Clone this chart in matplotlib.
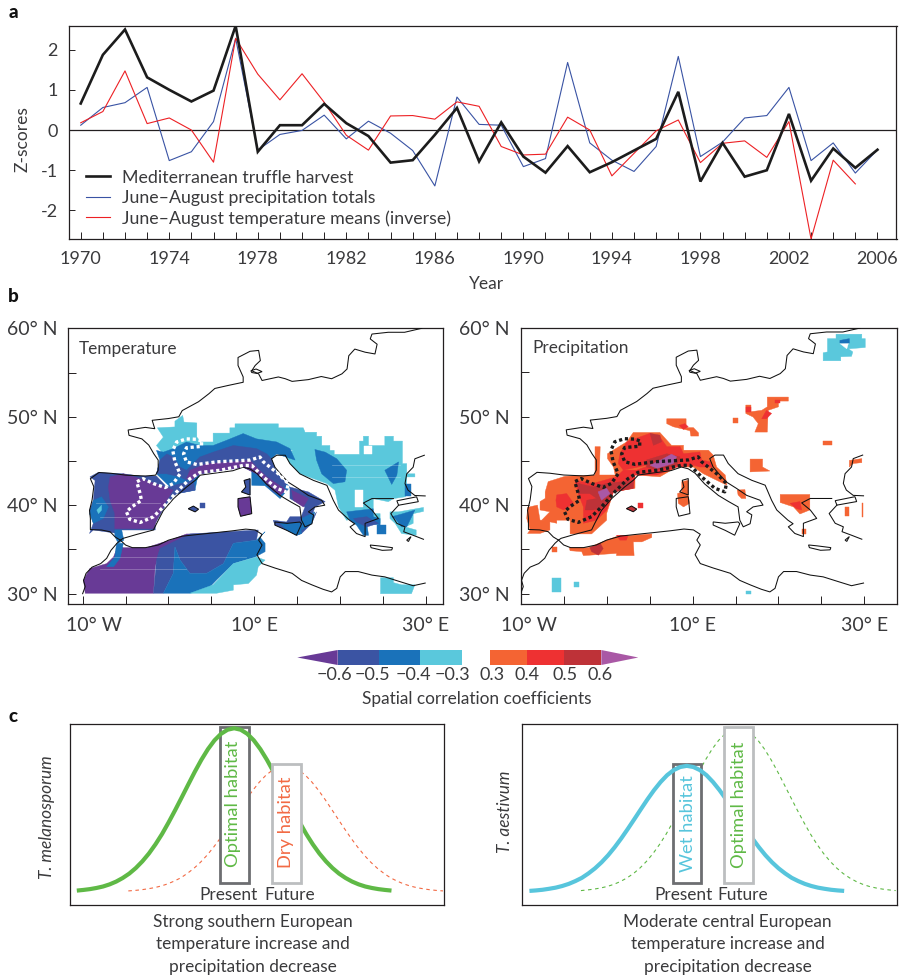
import numpy as np
import matplotlib
matplotlib.use("Agg")
import matplotlib.pyplot as plt
from matplotlib.patches import Polygon, Rectangle
from matplotlib.transforms import ScaledTranslation

plt.rcParams['font.family'] = ['Lato', 'DejaVu Sans']
W, H = 904, 977
TXT = '#3a3a3c'
FRAME = '#231f20'

# ---------- panel a data ----------
years = list(range(1970, 2007))
truffle = [.66,1.87,2.5,1.31,1.0,.71,.98,2.59,-.54,.12,.12,.65,.17,-.15,-.81,-.75,-.12,.55,-.78,.19,
           -.66,-1.06,-.4,-1.05,-.8,-.51,-.22,.95,-1.28,-.32,-1.16,-1.0,.4,-1.26,-.46,-.94,-.49]
precip = [.12,.56,.68,1.06,-.76,-.54,.21,2.28,-.5,-.11,-.01,.37,-.22,.22,-.08,-.51,-1.39,.82,.14,.12,
          -.91,-.71,1.68,-.32,-.75,-1.03,-.41,1.83,-.66,-.3,.3,.36,1.06,-.76,-.32,-1.07,-.49]
temp = [.18,.46,1.47,.16,.3,0,-.8,2.28,1.39,.75,1.4,.69,-.13,-.5,.35,.36,.27,.7,.59,-.41,
        -.62,-.6,.32,0,-1.14,-.58,-.02,.25,-.81,-.33,-.27,-.68,.21,-2.71,-.75,-1.34]
year_ticks = list(range(1970, 2007, 4))
series_names = ['Mediterranean truffle harvest', 'June–August precipitation totals',
                'June–August temperature means (inverse)']

# ---------- coastlines (lon, lat) ----------
coast_africa = [(-10,30),(-9.7,30.8),(-9.9,31.5),(-9.6,32.3),(-8.9,33),(-7.9,33.4),(-7.2,34),(-6.7,34.9),(-6,35.7),(-5.6,36.05),
    (-5,35.5),(-4.2,35.2),(-2.7,35.2),(-1.2,35.5),(0,36.05),(1.6,36.5),(3.5,36.7),(5.5,36.9),(7.4,37.1),(9,37.3),(10.1,37.2),
    (10.9,36.7),(10.5,36.05),(10.9,35.5),(10.3,34.4),(10.9,33.4),(12.4,32.9),(14.4,32.3),(15.5,31.5),(16.7,31),(18,30.5),(19,30.2),
    (19.6,30.6),(20,31.9),(20.6,32.5),(22.1,32.5),(23.7,32.1),(25.2,31.9),(27,31.35),(28.5,30.9),(29.9,31.2)]
coast_atlantic = [(-5.6,36.05),(-6.2,36.4),(-6.8,37),(-7.8,37.2),(-9.1,37.25),(-9.1,38.5),(-9.2,39.4),(-8.9,40.6),(-8.7,42.1),(-9.1,43),
    (-8.1,43.7),(-6.6,43.6),(-5,43.4),(-2.7,43.3),(-1.5,43.4),(-1.2,43.95),(-1.2,45.1),(-1.7,45.8),(-2.3,46.8),(-3.1,47.5),(-4.6,47.9),
    (-4.7,48.5),(-2.7,48.8),(-1.6,48.65),(-1.9,49.6),(0,49.8),(1.2,50),(1.6,50.7),(3.5,51.7),(4.7,52.6),(5.4,53.2),(7,53.55),(8.7,53.9),
    (8.7,54.5),(8.1,55.8),(8.1,56.7),(9.5,57.4),(10.5,57.5),(10.7,56.35),(10.1,55.8),(9.7,55.2),(10.5,54.85),(10.9,54.1),(12.8,54.5),
    (13.6,54.3),(14.4,54),(16.3,54.2),(17.8,54.55),(19,54.3),(20.2,54.85),(20.8,55.4),(21,56.9),(21.7,57.65),(22.9,57.3),(24.05,57.1),
    (24.3,58.2),(23.5,58.8),(23.7,59.35),(25.6,59.55),(27.5,59.55),(29.5,60)]
coast_med = [(-5.6,36.05),(-5.3,36.25),(-3.7,36.7),(-1.75,37.2),(-1.4,37.9),(-.6,39.4),(.6,40.75),(2.1,42.05),(3.1,42.8),(3.7,43.4),
    (5.2,43.6),(7.5,43.9),(8.7,44.3),(9.5,44.1),(10.3,43.6),(11.4,42.4),(13,41.1),(14.2,40.4),(15.3,39.8),(15.5,38.3),(15.9,37.55),
    (16.7,37.9),(16.9,38.9),(16.3,39.25),(17.05,39.8),(18.2,40),(17.85,40.55),(16.3,41.1),(15.1,41.9),(13.95,42.6),(13,43.6),(12.4,44.3),
    (12,45.25),(12.6,45.65),(13.6,45.65),(14.15,44.7),(15.3,43.55),(16.9,42.8),(18.45,42.25),(19.2,40.55),(19.8,39.45),(21.1,38.3),(21.7,37.9),
    (21.15,37.55),(21.9,36.8),(22.9,36.45),(22.9,37.95),(24.45,38.5),(23.7,39.45),(22.7,40.25),(23.7,40.75),(26.2,40.75)]
coast_blacksea = [(29.8,45.65),(28.7,45.25),(28.5,44.3),(27.75,43.55),(27.55,42.45),(27.9,41.7),(28.7,41.1),(29.9,41.05)]
coast_turkey = [(26.8,40),(25.9,39.05),(26.6,37.95),(27.55,37.55),(27.4,37),(28.5,36.6),(29.7,36.15)]
isle_marmara = [(26.6,40.5),(28.9,40.95),(29.1,40.4),(26.8,40)]
isle_rhodes = [(27.75,36.05),(28.25,36.45),(27.95,35.9)]
isle_crete = [(23.5,35.5),(24.5,35.4),(26.1,35.2),(26,34.95),(24.9,34.9),(23.6,35.2)]
isle_sicily = [(12.4,38.1),(13.8,37.95),(15.3,38.1),(15.5,37.9),(14.9,36.6),(13.8,37.15),(12.4,37.75)]
isle_sardinia = [(8.1,40.75),(9.5,40.95),(9.7,39.05),(8.4,38.75),(8.1,39.8)]
isle_corsica = [(8.8,42.8),(9.5,43),(9.5,41.15),(8.5,41.5),(9,42.05)]
isle_mallorca = [(2.3,39.6),(2.9,39.9),(3.5,39.55),(3.1,39.25)]
isle_zealand = [(9.6,55.2),(10.2,55.4),(10.9,55.1),(10.3,54.9),(9.7,55)]
coast_lines = [coast_africa, coast_atlantic, coast_med, coast_blacksea, coast_turkey]
coast_isles = [isle_marmara, isle_rhodes, isle_crete, isle_sicily, isle_sardinia, isle_corsica, isle_mallorca, isle_zealand]

# habitat corridor
corridor = [(3.85,47.25),(3.3,47.45),(2.1,47.5),(.95,47.15),(.5,46.2),(.75,44.9),(1.35,43.55),(.55,42.45),(-.4,42),(-1.75,42.45),
    (-2.95,43),(-3.7,42.65),(-3.3,41.3),(-3.15,40.55),(-4.3,39.8),(-4.9,39.25),(-4.5,38.4),(-3.3,38.05),(-1.75,38.7),(-.6,39.8),(.95,41.5),
    (2.5,43),(3.65,43.7),(6,43.95),(8.7,44.5),(9.7,44.5),(11.05,43.2),(12.6,41.9),(13.75,41.5),(13.95,42.45),(12.8,43.55),(11.05,44.9),
    (10.65,45.45),(9.5,45.1),(5.6,44.9),(3.3,44.6),(2.1,44.9),(1.75,45.8),(2.1,46.5),(3.85,46.65)]

def cell(lon0, lon1, lat0, lat1):
    return [(lon0,lat0),(lon1,lat0),(lon1,lat1),(lon0,lat1)]

# colour classes
C_M6, C_M5, C_M4, C_M3 = '#683a96', '#3b54a3', '#1a72ba', '#5ac8dc'
C_P3, C_P4, C_P5, C_P6 = '#f46433', '#ee3132', '#be3238', '#a958a5'
WHITE = 'white'

# ---------- temperature correlation regions ----------
t_cyan_eu = [(-1.3,48.75),(.75,48.85),(.75,49.5),(1.65,50.15),(1.8,49.4),(3.3,49.3),(3.3,47.7),(3.75,47.15),(5.2,47.15),(5.2,48.15),(7.15,48.15),
    (7.15,48.75),(7.75,48.75),(7.75,49.2),(12.8,49.2),(12.8,48.75),(15.7,48.75),(15.9,48.25),(17.25,48.25),(17.25,47.8),(17.85,47.8),(17.85,46.75),
    (18.8,46.75),(18.8,46.2),(19.3,46.2),(19.3,45.75),(22.25,45.75),(22.25,47.25),(22.7,47.25),(22.7,47.8),(23.3,47.8),(23.3,46.75),(25.2,46.75),
    (25.2,47.8),(26.2,47.8),(26.2,47.25),(27.25,47.25),(27.25,44.7),(27.75,44.7),(27.75,43.55),(28.7,43.55),(28.7,43.2),(27.75,43.2),(27.75,42.25),
    (28.2,41.5),(27.55,40.95),(26.2,40.75),(25.6,40.4),(23.85,40.75),(23.85,39.05),(24.65,39.05),(24.65,37.95),(23.3,38.3),(21.55,38.5),(20.75,38.3),
    (19.8,39.8),(19.4,41.7),(18.45,42.45),(16.9,43),(15.3,43.55),(14.15,44.7),(13.6,45.65),(14.55,46.2),(3.65,46.75),(-.6,45.8),(-1.4,46.75),(-.6,47.7)]
t_gap1 = cell(22.8,23.75,45.75,46.7)
t_gap2 = cell(21.75,22.7,39.8,41.7)
t_blue_eu = [(-1.4,46.2),(-.6,46),(.55,46.4),(2.1,47.15),(3.65,46.75),(5.2,46.75),(6.8,47.35),(8.7,48.1),(10.25,47.5),(12.6,47.15),(14.15,46.4),
    (14.75,45.1),(12.6,45.8),(12,45.25),(12.6,43.55),(14.15,42.05),(13,40.75),(11.25,42.2),(9.7,42.25),(9.7,43.95),(8.7,44.3),(3.65,43.55),(3.3,42.8),
    (3.1,41.7),(.95,41.3),(.2,42.05),(-1.4,43.55),(-1,45.1)]
t_ind_eu = [(-1,45.1),(-.2,45.8),(.55,45.45),(1.35,44.3),(2.1,43.95),(3.65,45.45),(5.2,46),(7.55,46.75),(10.25,46.4),(11.45,45.8),(12,45.25),(12.6,43.55),
    (13.75,42.45),(13,41.15),(12.2,41.5),(10.25,43.55),(8.7,44.3),(3.65,43.55),(2.9,43.4),(2.1,42.8),(1.35,43.2),(-.2,43.55),(-1.4,43.55)]
t_pur_eu = [(2.5,43.95),(4.45,44.7),(7.55,44.9),(9.5,45.1),(10.25,44.3),(11.45,43.2),(13.75,41.7),(13,41.15),(10.25,43.55),(8.7,44.3),(3.65,43.55),(2.7,42.8),(2.1,43)]
t_blue_e1 = [(17.05,46.3),(18.25,46),(19.6,45.25),(20.75,43.95),(20.55,42.65),(19.2,42.45),(17.85,43.55),(17.25,45.1)]
t_blue_e2 = [(25.2,43.95),(26.8,44.9),(26.6,43.4),(26,42.35)]
t_blue_e3 = cell(27.55,28.2,41,42.45)
t_blue_gr = [(20.75,39.25),(23.85,39.6),(23.85,38.7),(24.65,38.5),(24.65,37.75),(23.1,37.95),(23.3,36.6),(22.7,36.6),(21.9,37.75),(21.15,38.3)]
t_ind_gr = [(21.55,38.5),(23.1,38.7),(24.45,37.95),(23.1,37.55),(21.9,38.1)]
t_blue_sq = cell(24.25,25.35,36.75,37.75)
t_cyan_tr = [(25.8,39.25),(26.8,39.25),(29.7,39.75),(29.7,39.3),(28.5,39.05),(28.5,37.95),(27.55,37.55),(28.85,37.2),(28.85,36.6),(27.15,36.8),(26.4,37.95),(25.8,38.5)]
t_blue_tr = [(26,38.7),(27.15,39),(28.7,39.45),(27.75,37.55),(27.15,37.55),(26.4,38.5)]
t_ind_ib = [(-9.15,43.2),(-8.2,43.7),(-5.25,43.55),(-3.3,43.3),(-1.4,43.3),(-.2,42.05),(2.9,42.8),(3.1,41.7),(.95,41.3),(-.2,40.2),(-1.55,37.95),(-1.55,37.2),
    (-5.65,37.2),(-5.85,36.8),(-8.75,37.2),(-9.2,36.8),(-8.75,37.95),(-9.2,39.45),(-8.75,40.55),(-8.55,42.8)]
t_pur_ib = [(-6.8,43.2),(-5.25,43.55),(-2.55,42.8),(.55,41.7),(-.2,40.55),(-1.4,38.3),(-1.75,37.35),(-6.25,37.35),(-6.25,39.05),(-6.8,40.55),(-7,42.05)]
t_blue_pt = [(-8.75,40.55),(-7.8,40.95),(-7,39.8),(-7.6,38.5),(-8.75,37.95),(-9.2,39.05),(-8.95,39.8)]
t_cyan_pt = [(-8.35,39.45),(-7.8,40),(-7.8,39.45),(-8.15,39.05)]
t_blue_st = [(-6.25,37.2),(-5.45,37.2),(-5.2,36.05),(-5.85,35.7),(-6.25,36.45)]
t_blue_ma = [(-7.2,33.05),(-6.25,34.15),(-6.05,35.7),(-5.25,35.7),(-5.65,34),(-6.4,33.05)]
t_pur_af = [(-9.7,30.05),(-9.9,31.55),(-9.15,32.85),(-7.2,33.4),(-6.4,34.15),(-5.85,35.5),(-5.25,35.2),(-2.55,35.2),(-1,35.7),(.2,36.05),(2.1,36.75),(4.45,36.75),
    (5.2,36.4),(2.1,35.7),(.55,35.5),(-1,34.9),(-1.55,33.05),(-1.75,30.05)]
t_ind_af = [(-1.75,30.05),(-1.4,33.8),(-1,35.1),(.55,35.85),(2.5,36.75),(6.8,37),(10.45,37.2),(10.25,36.05),(7.55,35.7),(6.4,33.4),(4.45,32.3),(2.5,32.3),(1.35,33.8),
    (.75,35.3),(.55,32.3),(-.6,30.05)]
t_blue_af = [(-.6,30.05),(.55,32.3),(.75,35.3),(1.35,33.8),(2.5,32.3),(4.45,32.3),(6.4,33.4),(7.55,35.7),(10.25,36.05),(11.25,37),(10.65,36.4),(11.25,35.7),(11.25,34.75),
    (10.1,34.15),(7.55,33.4),(5.6,31.55),(4.45,30.4),(2.5,30.05)]
t_cyan_af = [(2.5,30.05),(5.2,31),(7.55,33.4),(10.25,34.15),(11.25,33.8),(10.45,33.05),(10.25,32.1),(9.3,31.15),(7.55,31),(7.55,30.4),(5.6,30.05)]
t_cyan_ly = [(24.7,31.8),(26.2,31.8),(26.2,31.25),(27.15,31),(28.7,31),(28.3,30),(24.7,30)]
t_blue_si = [(13,37.95),(15.3,38),(15.5,36.8),(14.95,36.6),(13.75,37.2)]
t_ind_si = [(12.2,38.3),(13.75,38.1),(14.15,38.7),(16.9,38.7),(17.25,39.25),(16.7,37.95),(15.5,36.8),(14.95,36.6),(13.75,37.2),(12.4,37.75)]
t_blue_ca = [(15.5,38.5),(17.05,39.25),(16.7,37.95),(15.5,37.2)]
t_ind_it = [(14.15,42.05),(16.3,41.5),(18.25,40.4),(17.05,39.8),(16.7,38.7),(15.3,38.3),(15.9,39.8),(14.15,40.75)]
t_pur_it = [(14.35,41.7),(16.3,40.75),(15.7,39.8),(14.55,40.55)]
t_ind_bal = cell(3.65,4.25,39.7,40.25)

temperature_regions = [
    (t_cyan_eu,C_M3),(t_gap1,WHITE),(t_gap2,WHITE),(t_blue_eu,C_M4),(t_ind_eu,C_M5),(t_pur_eu,C_M6),
    (t_blue_e1,C_M4),(t_blue_e2,C_M4),(t_blue_e3,C_M4),(t_cyan_tr,C_M3),(t_blue_tr,C_M4),(t_blue_gr,C_M4),(t_ind_gr,C_M5),(t_blue_sq,C_M4),
    (t_ind_ib,C_M5),(t_pur_ib,C_M6),(t_blue_pt,C_M4),(t_cyan_pt,C_M3),(t_blue_st,C_M4),
    (t_pur_af,C_M6),(t_blue_ma,C_M4),(t_ind_af,C_M5),(t_blue_af,C_M4),(t_cyan_af,C_M3),(t_cyan_ly,C_M3),
    (t_ind_si,C_M5),(t_blue_si,C_M4),(t_ind_it,C_M5),(t_pur_it,C_M6),(t_blue_ca,C_M4),
    (isle_sardinia,C_M6),(isle_corsica,C_M5),(isle_mallorca,C_M5),(t_ind_bal,C_M5)]

# faint seams running through the temperature fill: lat, lon from, lon to
t_seams = [(34.2,-7.4,9),(32.75,-8,2),(40.2,-8.5,-1),(38.7,-8,-2),(44.6,19,27),(43.2,19,27)]

# ---------- precipitation correlation regions ----------
p_or_main = [(-6.8,42.65),(-4.85,43.25),(-1.35,43.4),(-1.35,46.6),(-.75,46.6),(-.85,43.4),(1,43.4),(.8,44.3),(.1,45.25),(.1,45.8),(2.35,47.15),(3.1,48.2),(6.2,48.2),
    (7.55,46.75),(8.95,46.75),(8.95,46.2),(11.85,46.2),(12.4,45.65),(12.8,44.3),(13.8,43.4),(14,42.25),(12.4,43),(11.25,43.55),(10.1,44.3),(8.15,44.3),(6.2,43.2),
    (3.3,43.4),(3.3,41.9),(.8,41.5),(0,39.05),(0,38.3),(-1.75,36.75),(-4.25,36.75),(-4.25,38.3),(-5.8,38.3),(-5.8,37.95),(-7.55,38.3),(-6.6,39.25),(-7.75,39.45),
    (-7.75,40.4),(-7.15,40.75),(-7.15,41.5)]
p_or_pt = [(-9.2,39.75),(-8.05,40),(-7.75,38.3),(-6.6,38.3),(-6.6,37.2),(-7.75,36.8),(-9.2,36.8),(-8.9,37.2),(-9.3,38.5)]
p_red_a = [(-5.8,41.15),(-4.65,41.3),(-3.85,40.2),(-5,39.45),(-5.8,39.8),(-5.9,40.55)]
p_red_main = [(-3.7,42.8),(-1.55,42.45),(1.15,43.2),(1.95,43.95),(3.5,43.95),(5.05,44.5),(7,45.45),(8.55,46.6),(8.95,45.8),(10.85,46),(11.05,45.1),(12,44.9),(12.4,44.3),
    (10.85,44.3),(10.1,44.5),(8.15,44.3),(5.85,43.4),(3.3,43.4),(3.1,41.9),(.8,41.5),(0,39.45),(-1.15,38.3),(-2.7,37.95),(-2.7,39.8),(-3.3,41.3)]
p_red_fr = [(1.55,45.8),(2.35,47.15),(3.3,47.5),(5.05,48.1),(6.2,47.7),(7,46.6),(8.55,46.6),(7,45.45),(4.65,44.5),(1.95,43.95),(1.35,44.7)]
p_dk_a = [(-3.3,42.45),(-1.55,42.05),(0,42.45),(3.1,42.8),(3.1,41.9),(.8,41.5),(-.4,39.8),(-1.55,39.45),(-2.5,39.45),(-2.3,40.55),(-1.15,40.75),(-1.95,41.3),(-3.3,41.3)]
p_dk_b = [(5.05,48.1),(6.2,47.9),(6.4,47.15),(5.45,46.75)]
p_dk_c = [(4.65,45.1),(7,45.8),(8.55,45.45),(8.15,44.5),(5.85,43.95),(4.65,44.3)]
p_mg_a = [(-1,41.5),(0,41.9),(.4,41.3),(-.6,40.55)]
p_mg_b = [(5.05,44.5),(6.6,45.25),(7.55,45.75),(8.15,45.45),(7.75,44.7),(5.85,44.15)]
p_or_1 = [(7,49.75),(9.25,49.75),(9.25,48.75),(10.1,48.75),(10.7,48.15),(10.7,47.8),(9.8,47.8),(9.7,48.4),(7.75,48.85),(7,49.2)]
p_red_1 = [(8.45,49),(9.1,49.2),(9.5,48.85),(8.95,48.55)]
p_or_2 = [(16.2,51.3),(16.8,51.3),(16.8,50.55),(18.05,50.7),(18.7,51.1),(18.7,52.2),(21.15,52.2),(21.15,51.75),(20,51.75),(20,51.1),(18.8,50.7),(18.7,48.25),(17.25,48.25),
    (17.65,49.2),(17.05,49.95),(16.2,50.35)]
p_red_2a = [(18.05,49.75),(18.6,50.7),(19.2,50.35),(18.6,49.75)]
p_red_2b = cell(16.2,16.8,50.55,51.1)
p_red_2c = cell(19.6,20.2,51.55,51.85)
p_or_3 = cell(14.75,15.25,49.3,49.8)
p_or_4 = cell(25.2,26.2,46.75,47.2)
p_or_5 = [(16.7,45.2),(18.15,45.2),(18.15,44.3),(19,43.85),(16.7,43.75)]
p_or_6 = [(28.25,45.05),(29.7,45.25),(29.7,44.8),(28.7,44.7),(28.25,44.3)]
p_or_7 = [(20.2,41.2),(23.65,41.2),(23.65,39.45),(22.5,39),(21.75,39.8),(20.2,40.3)]
p_red_7 = [(21.35,40.2),(22.5,40.4),(22.7,39.45),(22.1,39.6)]
p_or_8 = cell(27.75,28.2,38.75,39.75)
p_or_9 = cell(29.7,29.8,38.7,40.2)
p_or_10 = cell(22.7,23.15,36.75,37.25)
p_or_11 = [(15.2,41.7),(16.1,41.75),(16.2,40.75),(15.7,40.75),(15.3,41.15)]
p_or_sar = [(8.75,42.65),(9.5,42.8),(9.5,41.3),(9.65,40.2),(8.95,39.8),(8.35,40.2),(8.25,41.3),(8.75,41.5)]
p_red_bal = cell(3.7,4.2,39.7,40.2)
p_or_af = [(-4.35,35.2),(-2.1,35.2),(0,36.05),(1.15,36.45),(5.25,36.75),(5.25,36.35),(4.1,35.85),(3.1,35.85),(3.2,34.3),(1.15,34.3),(1.15,34.55),(-2.7,34.3),(-2.9,34.75),(-4.25,34.85)]
p_dk_af = [(-1.95,35.2),(-.75,35.7),(-.4,35.1),(-.95,34.35),(-1.75,34.75)]
p_red_af = [(1.15,36.6),(2.5,36.6),(2.3,36.05),(1.55,36.05)]
p_or_ma = cell(-6.4,-5.8,34.75,35.25)
p_cy_1 = cell(-6.3,-5.3,30.2,31.75)
p_cy_2 = cell(-3.8,-3.2,30.8,31.3)
p_cy_3 = cell(16.2,16.8,30,30.3)
p_cy_top = [(26.7,59.3),(29.7,59.3),(29.7,58.8),(30.1,58.8),(30.1,57.8),(28.15,57.65),(28.65,57.3),(28.5,56.8),(27.25,56.75),(27.25,56.3),(25.2,56.3),(25.2,57.2),(25.7,57.3),(25.7,58.8),(26.7,58.8)]
p_wh_top = [(27.15,58.25),(28.15,58.3),(27.95,57.65)]
p_bl_top = [(27.15,58.6),(28.25,58.8),(28.25,58.3),(27.15,58.3)]

precipitation_regions = [
    (p_or_main,C_P3),(p_or_pt,C_P3),(p_red_a,C_P4),(p_red_main,C_P4),(p_red_fr,C_P4),(p_dk_a,C_P5),(p_dk_b,C_P5),(p_dk_c,C_P5),(p_mg_a,C_P6),(p_mg_b,C_P6),
    (p_or_1,C_P3),(p_red_1,C_P4),(p_or_2,C_P3),(p_red_2a,C_P4),(p_red_2b,C_P4),(p_red_2c,C_P4),(p_or_3,C_P3),(p_or_4,C_P3),(p_or_5,C_P3),(p_or_6,C_P3),
    (p_or_7,C_P3),(p_red_7,C_P4),(p_or_8,C_P3),(p_or_9,C_P3),(p_or_10,C_P3),(p_or_11,C_P3),(p_or_sar,C_P3),(p_red_bal,C_P4),(isle_mallorca,C_P5),
    (p_or_af,C_P3),(p_dk_af,C_P5),(p_red_af,C_P4),(p_or_ma,C_P3),(p_cy_1,C_M3),(p_cy_2,C_M3),(p_cy_3,C_M3),(p_cy_top,C_M3),(p_wh_top,WHITE),(p_bl_top,C_M4)]

lon_ticks = list(range(-10, 31, 5))
lat_ticks = [30, 35, 40, 45, 50, 55]
lon_labels = {-10:'10° W', 10:'10° E', 30:'30° E'}
lat_labels = {30:'30° N', 40:'40° N', 50:'50° N', 60:'60° N'}

# ---------- colour bar ----------
cb_labels = ['−0.6','−0.5','−0.4','−0.3','0.3','0.4','0.5','0.6']
cb_colors_neg = [C_M5, C_M4, C_M3]
cb_colors_pos = [C_P3, C_P4, C_P5]

# ---------- panel c: curve heights read along the gradient ----------
curve_high = [.007,.011,.016,.023,.032,.045,.062,.084,.111,.145,.186,.234,.29,.353,.424,.499,.577,.656,.734,.807,.872,.926,.966,.991,1,
              .991,.966,.926,.872,.807,.734,.656,.577,.499,.424,.353,.29,.234,.186,.145,.111,.084,.062,.045,.032,.023,.016,.011,.007]
curve_low = [.005,.008,.012,.018,.025,.035,.048,.065,.085,.112,.143,.18,.223,.272,.326,.384,.444,.505,.565,.621,.671,.713,.744,.763,.77,
             .763,.744,.713,.671,.621,.565,.505,.444,.384,.326,.272,.223,.18,.143,.112,.085,.065,.048,.035,.025,.018,.012,.008,.005]
grad_present = [1.9+1.75*i for i in range(49)]
grad_future = [15.65+1.75*i for i in range(49)]
C_GREEN, C_CYAN, C_ORANGE = '#5fb946', '#57c5dc', '#f26a44'
EDGE_P, EDGE_F = '#6d6e71', '#bcbec0'


def axpx(l, t, r, b):
    return fig.add_axes([l/W, 1-b/H, (r-l)/W, (b-t)/H])

def ptext(x, y, s, **kw):
    kw.setdefault('color', TXT)
    kw.setdefault('ha', 'center')
    kw.setdefault('va', 'center')
    return fig.text(x/W, 1-y/H, s, **kw)

def frame(ax, lw=0.9):
    for s in ax.spines.values():
        s.set_linewidth(lw)
        s.set_color(FRAME)

fig = plt.figure(figsize=(W/100, H/100), dpi=100, facecolor='white')

for s, y in zip('abc', (13, 296, 717)):
    ptext(13, y, s, fontsize=13.5, fontweight='black', color='#111111')

# ===== a =====
ax = axpx(69, 26, 896.5, 239)
ax.axhline(0, color=FRAME, lw=0.9, zorder=1)
ax.plot(years[:len(temp)], temp, color='#ed2024', lw=0.8, label=series_names[2], zorder=3)
ax.plot(years, precip, color='#3953a4', lw=0.8, label=series_names[1], zorder=2)
ax.plot(years, truffle, color='#1c1c1c', lw=1.9, label=series_names[0], zorder=4, solid_joinstyle='miter')
ax.set_xlim(1969.47, 2006.86)
ax.set_ylim(-2.71, 2.587)
ax.set_yticks([-2, -1, 0, 1, 2], ['-2', '-1', '0', '1', '2'])
ax.set_xticks(years, minor=True)
ax.set_xticks(year_ticks, [str(y) for y in year_ticks])
ax.tick_params(axis='x', which='both', direction='in', length=5, width=0.7, color=FRAME, labelsize=13, labelcolor=TXT, pad=8.5)
ax.tick_params(axis='y', direction='in', length=4, width=0.7, color=FRAME, labelsize=13, labelcolor=TXT, pad=8)
frame(ax)
h, l = ax.get_legend_handles_labels()
leg = ax.legend(h[::-1], l[::-1], loc='lower left', bbox_to_anchor=(0.0211, 0.058), frameon=False,
                fontsize=12.8, labelcolor=TXT, handlelength=1.3, handletextpad=0.7, labelspacing=0.24,
                borderaxespad=0, borderpad=0)
ptext(23, 139, 'Z-scores', rotation=90, fontsize=12.5)
ptext(487, 284, 'Year', fontsize=12.5)

# ===== b =====
def draw_map(ax, regions, loop_color, name, name_lon, seams=()):
    for pts, col in regions:
        ax.add_patch(Polygon(pts, closed=True, facecolor=col, edgecolor=col, lw=0.3, zorder=2))
    for lat, lon0, lon1 in seams:
        ax.plot([lon0, lon1], [lat, lat], color='white', lw=0.5, alpha=0.35, zorder=2.5)
    for line in coast_lines:
        ax.plot(*zip(*line), color='#111111', lw=0.75, zorder=3)
    for isle in coast_isles:
        ax.add_patch(Polygon(isle, closed=True, fill=False, edgecolor='#111111', lw=0.75, zorder=3))
    ax.plot(*zip(*(corridor + corridor[:1])), color=loop_color, lw=2.4, zorder=4, linestyle=(0, (0.95, 0.85)))
    ax.set_ylim(28.8, 59.95)
    ax.set_xticks(lon_ticks, [lon_labels.get(v, '') for v in lon_ticks])
    ax.set_yticks(lat_ticks + [60], [lat_labels.get(v, '') for v in lat_ticks + [60]])
    ax.tick_params(axis='both', direction='in', length=6, width=0.7, color=FRAME, labelsize=14, labelcolor=TXT)
    ax.tick_params(axis='x', pad=9)
    ax.tick_params(axis='y', pad=8)
    ax.yaxis.get_major_ticks()[-1].tick1line.set_visible(False)
    frame(ax)
    ax.text(name_lon, 57.7, name, fontsize=12.4, color=TXT, ha='left', va='center', zorder=5)

ax1 = axpx(68.3, 328.3, 442.7, 604.3)
ax1.set_xlim(-11.67, 31.94)
draw_map(ax1, temperature_regions, 'white', 'Temperature', -10.5, t_seams)
ax2 = axpx(520.7, 328, 896.7, 604.3)
ax2.set_xlim(-10, 33.76)
draw_map(ax2, precipitation_regions, '#1c1c1c', 'Precipitation', -8.6)
for a, dx in ((ax1, 11), (ax2, 8)):
    lab = a.get_xticklabels()[0]
    lab.set_transform(lab.get_transform() + ScaledTranslation(dx/100, 0, fig.dpi_scale_trans))

# ===== colour bar =====
cb_pos = [337.7, 379, 420, 461.7, 490, 527, 564, 601.3]
cb_lab_x = [334, 372, 413, 452, 492, 527, 565, 600]
cax = axpx(297.3, 650, 638.3, 665)
cax.set_xlim(297.3, 638.3)
cax.set_ylim(0, 1)
cax.axis('off')
cax.add_patch(Polygon([(297.3, .5), (cb_pos[0], 1), (cb_pos[0], 0)], facecolor=C_M6, lw=0))
cax.add_patch(Polygon([(638.3, .5), (cb_pos[-1], 1), (cb_pos[-1], 0)], facecolor=C_P6, lw=0))
for i, c in enumerate(cb_colors_neg):
    cax.add_patch(Rectangle((cb_pos[i], 0), cb_pos[i+1]-cb_pos[i], 1, facecolor=c, lw=0))
for i, c in enumerate(cb_colors_pos):
    cax.add_patch(Rectangle((cb_pos[i+4], 0), cb_pos[i+5]-cb_pos[i+4], 1, facecolor=c, lw=0))
for x, s in zip(cb_lab_x, cb_labels):
    ptext(x, 675, s, fontsize=13)
ptext(477, 699, 'Spatial correlation coefficients', fontsize=12.4)

# ===== c =====
def habitat(ax, present_top, future_top, solid, dashed, solid_c, dash_c, present_lbl, future_lbl,
            tp, fp, present_tx, future_tx):
    ax.plot(grad_future, dashed, color=dash_c, lw=0.8, linestyle=(0, (3.2, 3.2)), zorder=1)
    ax.add_patch(Rectangle((40.1, .051), 7.7, present_top-.051, facecolor='white', edgecolor=EDGE_P, lw=2.0, zorder=2))
    ax.plot(grad_present, solid, color=solid_c, lw=3.0, zorder=3, solid_capstyle='butt')
    ax.add_patch(Rectangle((53.9, .051), 7.75, future_top-.051, facecolor='white', edgecolor=EDGE_F, lw=2.0, zorder=4))
    ax.text(tp[0], tp[1], present_lbl[0], color=present_lbl[1], rotation=90, ha='center', va='center', fontsize=13.2, zorder=5)
    ax.text(fp[0], fp[1], future_lbl[0], color=future_lbl[1], rotation=90, ha='center', va='center', fontsize=13.2, zorder=5)
    ax.text(present_tx, -.02, 'Present', color=TXT, ha='center', va='center', fontsize=12.4, zorder=5)
    ax.text(future_tx, -.02, 'Future', color=TXT, ha='center', va='center', fontsize=12.4, zorder=5)
    ax.set_xlim(0, 100)
    ax.set_ylim(-.083, 1.026)
    ax.set_xticks([]); ax.set_yticks([])
    frame(ax, 0.9)

ac1 = axpx(69.7, 724, 444.3, 905.3)
habitat(ac1, 1.01, .78, curve_high, curve_low, C_GREEN, C_ORANGE,
        ('Optimal habitat', C_GREEN), ('Dry habitat', C_ORANGE), (43.7, .54), (57.8, .424), 42.5, 58.6)
ac2 = axpx(522.3, 724, 897, 905.3)
habitat(ac2, .78, 1.01, curve_low, curve_high, C_CYAN, C_GREEN,
        ('Wet habitat', C_CYAN), ('Optimal habitat', C_GREEN), (44.1, .42), (57.8, .533), 43.1, 58.7)

ptext(46.7, 816.7, 'T. melanosporum', rotation=90, fontsize=12.4, fontstyle='italic')
ptext(505, 811.7, 'T. aestivum', rotation=90, fontsize=12.4, fontstyle='italic')
for cx, lines in ((252.7, ['Strong southern European', 'temperature increase and', 'precipitation decrease']),
                  (727.7, ['Moderate central European', 'temperature increase and', 'precipitation decrease'])):
    for y, s in zip((921.7, 944.3, 966.7), lines):
        ptext(cx, y, s, fontsize=12.4)

fig.savefig('out.png', dpi=100, facecolor='white')
